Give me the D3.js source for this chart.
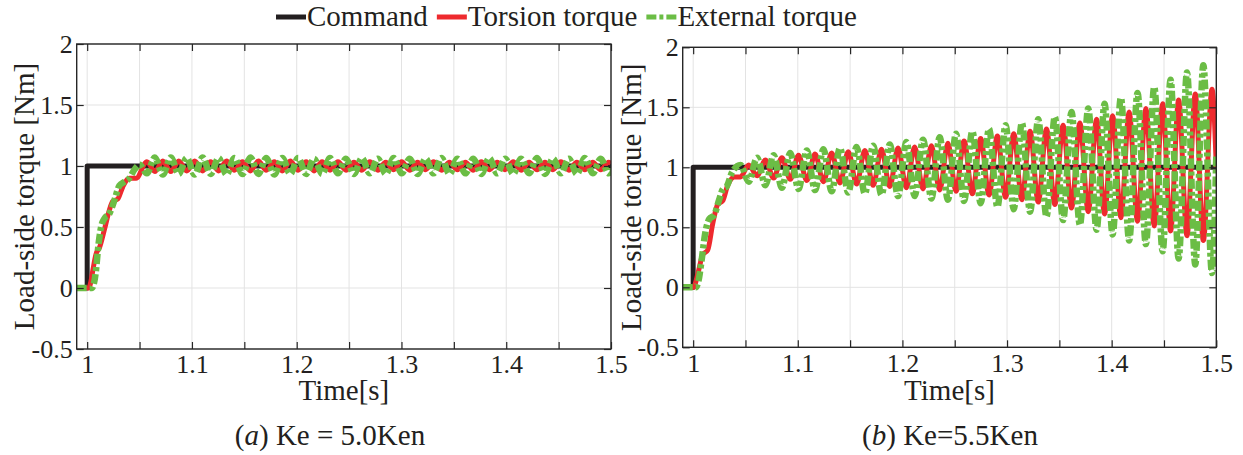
<!DOCTYPE html>
<html><head><meta charset="utf-8">
<script src="https://cdn.jsdelivr.net/npm/d3@7"></script>
<style>
body{margin:0;background:#fff}
svg text{font-family:"Liberation Serif","Times New Roman",Times,serif !important;fill:#231f20}
</style>
</head><body>
<svg id="c" width="1243" height="455"></svg>
<script>
// ---------- tick values & labels ----------
const xTicks = [1, 1.05, 1.1, 1.15, 1.2, 1.25, 1.3, 1.35, 1.4, 1.45, 1.5];
const xTickLabels = ["1", "", "1.1", "", "1.2", "", "1.3", "", "1.4", "", "1.5"];
const yTicks = [-0.5, 0, 0.5, 1, 1.5, 2];
const yTickLabels = ["-0.5", "0", "0.5", "1", "1.5", "2"];
const seriesNames = ["Command", "Torsion torque", "External torque"];
const captionLetters = ["a", "b"];
const captionTexts = [" Ke = 5.0Ken", " Ke=5.5Ken"];
const xLabel = "Time[s]";
const yLabel = "Load-side torque [Nm]";

// ---------- panel (a) Ke = 5.0Ken ----------
const cmdA_t = [0.99, 1.0, 1.0, 1.5];
const cmdA_v = [0, 0, 1, 1];
const redA_t = [0.99, 1.0015, 1.0035, 1.0055, 1.0085, 1.0117, 1.0165, 1.0212, 1.0244, 1.0292, 1.034, 1.0403, 1.0467,
  1.0570, 1.0646, 1.0722, 1.0798, 1.0874, 1.0950, 1.1026, 1.1102, 1.1178, 1.1254, 1.1330, 1.1406, 1.1482, 1.1558,
  1.1634, 1.1710, 1.1786, 1.1862, 1.1938, 1.2014, 1.2090, 1.2166, 1.2242, 1.2318, 1.2394, 1.2470, 1.2546, 1.2622,
  1.2698, 1.2774, 1.2850, 1.2926, 1.3002, 1.3078, 1.3154, 1.3230, 1.3306, 1.3382, 1.3458, 1.3534, 1.3610, 1.3686,
  1.3762, 1.3838, 1.3914, 1.3990, 1.4066, 1.4142, 1.4218, 1.4294, 1.4370, 1.4446, 1.4522, 1.4598, 1.4674, 1.4750,
  1.4826, 1.4902, 1.4978, 1.5];
const redA_v = [0, 0, 0.05, 0.15, 0.28, 0.33, 0.48, 0.64, 0.71, 0.73, 0.83, 0.90, 0.90,
  1.035, 0.955, 1.04, 0.955, 1.04, 0.96, 1.04, 0.96, 1.035, 0.96, 1.04, 0.965, 1.035, 0.96,
  1.04, 0.965, 1.035, 0.96, 1.04, 0.965, 1.035, 0.96, 1.035, 0.965, 1.035, 0.965, 1.03, 0.965,
  1.035, 0.965, 1.03, 0.97, 1.035, 0.965, 1.03, 0.97, 1.035, 0.965, 1.03, 0.97, 1.03, 0.965,
  1.035, 0.97, 1.03, 0.97, 1.035, 0.965, 1.03, 0.97, 1.03, 0.97, 1.035, 0.965, 1.03, 0.97,
  1.03, 0.97, 1.03, 1.02];
const greenA_t = [0.99, 1.0045, 1.0065, 1.0085, 1.0101, 1.0133, 1.0165, 1.0212, 1.026, 1.0308, 1.0355, 1.0403, 1.0451, 1.0500,
  1.0570, 1.0646, 1.0722, 1.0798, 1.0874, 1.0950, 1.1026, 1.1102, 1.1178, 1.1254, 1.1330, 1.1406, 1.1482, 1.1558,
  1.1634, 1.1710, 1.1786, 1.1862, 1.1938, 1.2014, 1.2090, 1.2166, 1.2242, 1.2318, 1.2394, 1.2470, 1.2546, 1.2622,
  1.2698, 1.2774, 1.2850, 1.2926, 1.3002, 1.3078, 1.3154, 1.3230, 1.3306, 1.3382, 1.3458, 1.3534, 1.3610, 1.3686,
  1.3762, 1.3838, 1.3914, 1.3990, 1.4066, 1.4142, 1.4218, 1.4294, 1.4370, 1.4446, 1.4522, 1.4598, 1.4674, 1.4750,
  1.4826, 1.4902, 1.4978, 1.5];
const greenA_v = [0, 0, 0.04, 0.15, 0.30, 0.50, 0.57, 0.61, 0.72, 0.84, 0.87, 0.90, 0.97, 1.01,
  0.94, 1.07, 0.93, 1.07, 0.935, 1.065, 0.93, 1.07, 0.935, 1.065, 0.93, 1.065, 0.935, 1.07,
  0.935, 1.065, 0.93, 1.065, 0.935, 1.065, 0.935, 1.06, 0.935, 1.065, 0.94, 1.06, 0.935, 1.065,
  0.94, 1.06, 0.935, 1.065, 0.94, 1.06, 0.935, 1.06, 0.94, 1.065, 0.935, 1.06, 0.94, 1.06,
  0.935, 1.065, 0.94, 1.06, 0.935, 1.06, 0.94, 1.065, 0.935, 1.06, 0.94, 1.06, 0.935, 1.065,
  0.94, 1.06, 0.94, 0.98];

// ---------- panel (b) Ke = 5.5Ken ----------
const cmdB_t = [0.99, 1.0, 1.0, 1.5];
const cmdB_v = [0, 0, 1, 1];
const redB_t = [0.99, 1.0008, 1.002, 1.0055, 1.009, 1.0139, 1.0187, 1.0234, 1.0282, 1.033, 1.0394, 1.0452,
  1.0531, 1.0611, 1.0690, 1.0769, 1.0848, 1.0928, 1.1007, 1.1086, 1.1165, 1.1245, 1.1324, 1.1403, 1.1482, 1.1562,
  1.1641, 1.1720, 1.1800, 1.1879, 1.1958, 1.2038, 1.2117, 1.2197, 1.2277, 1.2356, 1.2435, 1.2512, 1.2589, 1.2668,
  1.2748, 1.2828, 1.2908, 1.2986, 1.3064, 1.3142, 1.3220, 1.3298, 1.3377, 1.3457, 1.3536, 1.3616, 1.3696, 1.3776,
  1.3856, 1.3932, 1.4009, 1.4088, 1.4167, 1.4247, 1.4327, 1.4407, 1.4487, 1.4563, 1.4640, 1.4720, 1.4799, 1.4876,
  1.4959, 1.5];
const redB_v = [0, 0, 0.03, 0.15, 0.27, 0.31, 0.53, 0.69, 0.72, 0.85, 0.92, 0.92,
  1.02, 0.93, 1.06, 0.91, 1.08, 0.90, 1.10, 0.89, 1.11, 0.88, 1.12, 0.87, 1.13, 0.86,
  1.14, 0.85, 1.15, 0.84, 1.16, 0.83, 1.17, 0.82, 1.18, 0.81, 1.20, 0.80, 1.22, 0.78,
  1.24, 0.77, 1.26, 0.75, 1.28, 0.73, 1.30, 0.71, 1.32, 0.69, 1.35, 0.66, 1.37, 0.63,
  1.40, 0.61, 1.43, 0.58, 1.46, 0.55, 1.49, 0.51, 1.53, 0.47, 1.56, 0.43, 1.61, 0.39,
  1.65, 1.00];
const greenB_t = [0.99, 1.0025, 1.005, 1.008, 1.0115, 1.0155, 1.0200, 1.0245, 1.0285, 1.0320, 1.0373, 1.0452,
  1.0531, 1.0611, 1.0690, 1.0769, 1.0848, 1.0928, 1.1007, 1.1086, 1.1165, 1.1245, 1.1324, 1.1403, 1.1482, 1.1562,
  1.1641, 1.1720, 1.1800, 1.1879, 1.1958, 1.2038, 1.2117, 1.2197, 1.2277, 1.2356, 1.2435, 1.2512, 1.2589, 1.2668,
  1.2748, 1.2828, 1.2908, 1.2986, 1.3064, 1.3142, 1.3220, 1.3298, 1.3377, 1.3457, 1.3536, 1.3616, 1.3696, 1.3776,
  1.3856, 1.3932, 1.4009, 1.4088, 1.4167, 1.4247, 1.4327, 1.4407, 1.4487, 1.4563, 1.4640, 1.4720, 1.4799, 1.4876,
  1.4959, 1.5];
const greenB_v = [0, 0, 0.05, 0.22, 0.45, 0.57, 0.60, 0.72, 0.82, 0.84, 0.96, 1.02,
  0.88, 1.08, 0.85, 1.10, 0.83, 1.12, 0.82, 1.14, 0.81, 1.15, 0.80, 1.16, 0.79, 1.17,
  0.78, 1.18, 0.77, 1.19, 0.76, 1.21, 0.76, 1.23, 0.74, 1.25, 0.73, 1.28, 0.72, 1.30,
  0.70, 1.32, 0.67, 1.35, 0.65, 1.37, 0.63, 1.40, 0.59, 1.42, 0.56, 1.46, 0.52, 1.49,
  0.48, 1.53, 0.44, 1.58, 0.39, 1.62, 0.36, 1.67, 0.30, 1.73, 0.24, 1.79, 0.19, 1.85,
  0.12, 1.10];

// ---------- styles ----------
const FONT = "'Liberation Serif', 'Times New Roman', Times, serif";
const colors = ["#231f20", "#ee2a2e", "#6bbd45"];
const widths = [5, 5, 6.5];
const dashes = [null, null, "10,3,4,3"];
const curves = [d3.curveLinear, d3.curveMonotoneX, d3.curveMonotoneX];

const svg = d3.select("#c");
const zip = (t, v) => t.map((d, i) => [d, v[i]]);

const panels = [
  {box: {l: 76.7, r: 611, t: 44, b: 349}, capX: 330, ylabX: 34,
   data: [zip(cmdA_t, cmdA_v), zip(redA_t, redA_v), zip(greenA_t, greenA_v)]},
  {box: {l: 682.7, r: 1216.3, t: 47.3, b: 347.3}, capX: 950, ylabX: 641,
   data: [zip(cmdB_t, cmdB_v), zip(redB_t, redB_v), zip(greenB_t, greenB_v)]}
];

panels.forEach((p, pi) => {
  const B = p.box;
  const x = d3.scaleLinear().domain([0.99, 1.5]).range([B.l, B.r]);
  const y = d3.scaleLinear().domain([-0.5, 2]).range([B.b, B.t]);
  const g = svg.append("g");

  // grid
  g.selectAll(".vg").data(xTicks).enter().append("line")
    .attr("x1", d => x(d)).attr("x2", d => x(d)).attr("y1", B.t).attr("y2", B.b)
    .attr("stroke", "#e3e3e3").attr("stroke-width", 1);
  g.selectAll(".hg").data(yTicks).enter().append("line")
    .attr("x1", B.l).attr("x2", B.r).attr("y1", d => y(d)).attr("y2", d => y(d))
    .attr("stroke", "#e3e3e3").attr("stroke-width", 1);

  // clip
  const cid = "clip" + pi;
  svg.append("clipPath").attr("id", cid).append("rect")
    .attr("x", B.l).attr("y", B.t).attr("width", B.r - B.l).attr("height", B.b - B.t);

  const lines = g.append("g").attr("clip-path", `url(#${cid})`);
  p.data.forEach((d, si) => {
    const line = d3.line().x(e => x(e[0])).y(e => y(e[1])).curve(curves[si]);
    lines.append("path").attr("d", line(d)).attr("fill", "none")
      .attr("stroke", colors[si]).attr("stroke-width", widths[si])
      .attr("stroke-dasharray", dashes[si]).attr("stroke-linejoin", "round");
  });

  // axes with inward ticks
  const axCol = "#262626";
  const xb = g.append("g").attr("transform", `translate(0,${B.b})`)
    .call(d3.axisBottom(x).tickValues(xTicks).tickSize(-7).tickSizeOuter(0).tickPadding(6)
      .tickFormat((d, i) => xTickLabels[i]));
  const xt = g.append("g").attr("transform", `translate(0,${B.t})`)
    .call(d3.axisTop(x).tickValues(xTicks).tickSize(-7).tickSizeOuter(0).tickFormat(""));
  const yl = g.append("g").attr("transform", `translate(${B.l},0)`)
    .call(d3.axisLeft(y).tickValues(yTicks).tickSize(-7).tickSizeOuter(0).tickPadding(4)
      .tickFormat((d, i) => yTickLabels[i]));
  const yr = g.append("g").attr("transform", `translate(${B.r},0)`)
    .call(d3.axisRight(y).tickValues(yTicks).tickSize(-7).tickSizeOuter(0).tickFormat(""));
  [xb, xt, yl, yr].forEach(a => {
    a.attr("font-family", FONT);
    a.select(".domain").remove();
    a.selectAll("line").attr("stroke", axCol).attr("stroke-width", 1.2);
    a.selectAll("text").attr("font-size", 26).attr("fill", "#231f20");
  });
  g.append("rect").attr("x", B.l).attr("y", B.t).attr("width", B.r - B.l).attr("height", B.b - B.t)
    .attr("fill", "none").attr("stroke", axCol).attr("stroke-width", 1.4);

  // axis labels
  const cx = (B.l + B.r) / 2;
  g.append("text").attr("x", cx).attr("y", 400).attr("text-anchor", "middle")
    .attr("font-size", 29).text(xLabel);
  g.append("text").attr("transform", `translate(${p.ylabX},${(B.t + B.b) / 2}) rotate(-90)`)
    .attr("text-anchor", "middle").attr("font-size", 29).text(yLabel);

  // caption
  const cap = g.append("text").attr("x", p.capX).attr("y", 445).attr("text-anchor", "middle")
    .attr("font-size", 29);
  cap.append("tspan").text("(");
  cap.append("tspan").attr("font-style", "italic").text(captionLetters[pi]);
  cap.append("tspan").text(")" + captionTexts[pi]);
});

// legend
const leg = svg.append("g");
let lx = 276;
const ly = 17;
seriesNames.forEach((name, i) => {
  leg.append("line").attr("x1", lx).attr("x2", lx + 30).attr("y1", ly).attr("y2", ly)
    .attr("stroke", colors[i]).attr("stroke-width", 5).attr("stroke-dasharray", dashes[i]);
  const t = leg.append("text").attr("x", lx + 31).attr("y", ly + 9).attr("font-size", 29).text(name);
  lx += 31 + t.node().getComputedTextLength() + 9;
});

svg.selectAll("text").attr("font-family", FONT).style("font-family", FONT);
</script>
</body></html>
